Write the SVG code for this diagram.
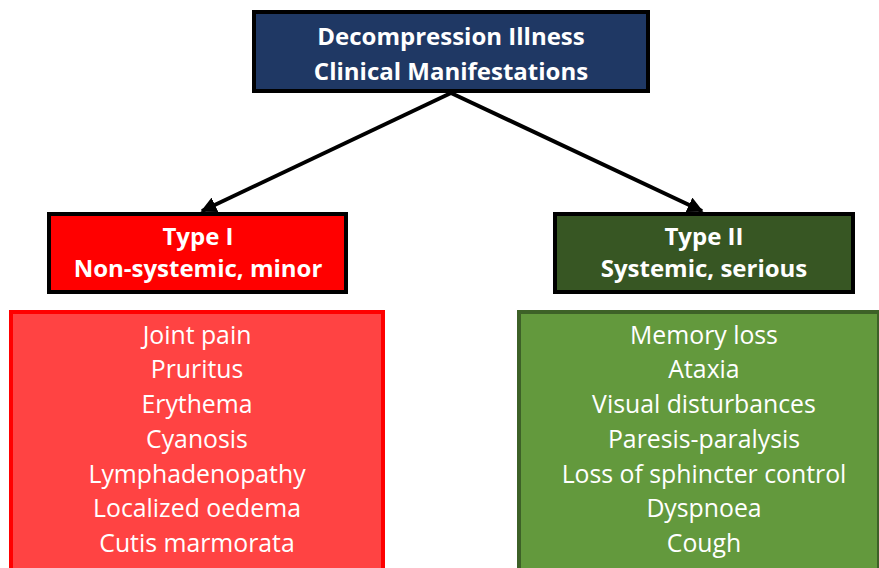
<svg xmlns="http://www.w3.org/2000/svg" width="879" height="568" viewBox="0 0 879 568">
<defs>
<marker id="arr" viewBox="0 0 10 10" refX="9" refY="5" markerWidth="4" markerHeight="4" orient="auto" markerUnits="strokeWidth">
<path d="M0,0 L10,5 L0,10 z" fill="#000"/>
</marker>
<style>
.hd{font-family:"Open Sans","Noto Sans",sans-serif;font-weight:bold;font-size:24px;fill:#fff;text-anchor:middle}
.it{font-family:"Open Sans","Noto Sans",sans-serif;font-size:24.8px;fill:#fff;text-anchor:middle}
.box{stroke-width:4}
</style>
</defs>
<rect width="879" height="568" fill="#fff"/>
<g id="connectors" stroke="#000" stroke-width="4" fill="none">
<line x1="451" y1="93" x2="202" y2="211" marker-end="url(#arr)"/>
<line x1="451" y1="93" x2="702" y2="211" marker-end="url(#arr)"/>
</g>
<g id="root">
<rect class="box" x="254" y="12" width="394" height="79" fill="#1f3864" stroke="#000"/>
<text class="hd" x="451" y="45">Decompression Illness</text>
<text class="hd" x="451" y="80">Clinical Manifestations</text>
</g>
<g id="type1">
<rect class="box" x="49" y="214" width="297" height="78" fill="#ff0000" stroke="#000"/>
<text class="hd" x="198" y="245">Type I</text>
<text class="hd" x="198" y="277">Non-systemic, minor</text>
</g>
<g id="type2">
<rect class="box" x="555" y="214" width="298" height="78" fill="#375623" stroke="#000"/>
<text class="hd" x="704" y="245">Type II</text>
<text class="hd" x="704" y="277">Systemic, serious</text>
</g>
<g id="list1">
<rect class="box" x="11" y="312" width="372" height="262" fill="#ff4343" stroke="#ff0000"/>
<text class="it" x="197" y="344">Joint pain</text>
<text class="it" x="197" y="378">Pruritus</text>
<text class="it" x="197" y="413">Erythema</text>
<text class="it" x="197" y="448">Cyanosis</text>
<text class="it" x="197" y="483">Lymphadenopathy</text>
<text class="it" x="197" y="517">Localized oedema</text>
<text class="it" x="197" y="552">Cutis marmorata</text>
</g>
<g id="list2">
<rect class="box" x="519" y="312" width="360" height="262" fill="#63993d" stroke="#3d6127"/>
<text class="it" x="704" y="344">Memory loss</text>
<text class="it" x="704" y="378">Ataxia</text>
<text class="it" x="704" y="413">Visual disturbances</text>
<text class="it" x="704" y="448">Paresis-paralysis</text>
<text class="it" x="704" y="483">Loss of sphincter control</text>
<text class="it" x="704" y="517">Dyspnoea</text>
<text class="it" x="704" y="552">Cough</text>
</g>
</svg>
